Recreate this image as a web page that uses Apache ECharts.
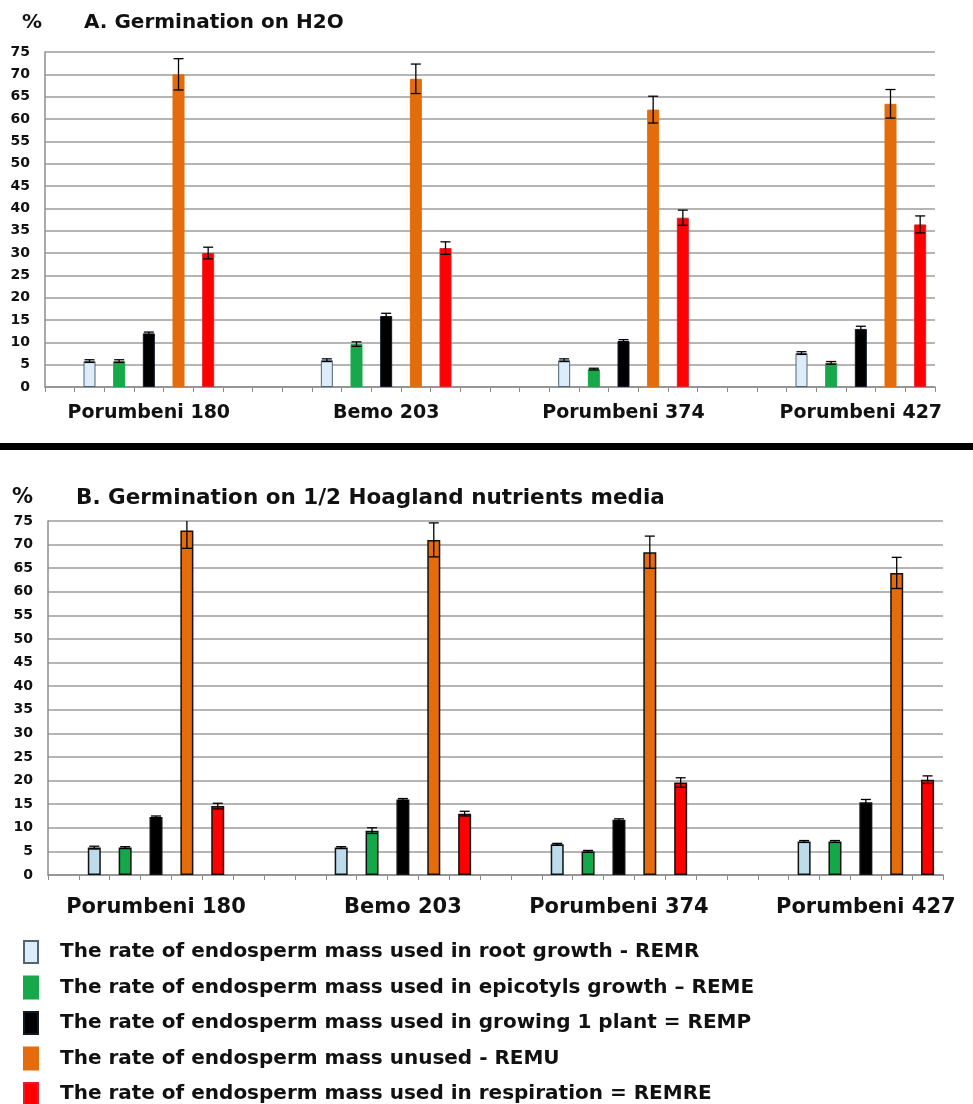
<!DOCTYPE html>
<html>
<head>
<meta charset="utf-8">
<title>Germination – endosperm mass use</title>
<script src="https://cdn.jsdelivr.net/npm/echarts@6/dist/echarts.min.js"></script>
<style>
  html, body { margin: 0; padding: 0; background: #fff; }
  #chart { width: 973px; height: 1104px; }
</style>
</head>
<body>
<div id="chart"></div>
<script>
// Cultivars (groups on the x axis)
const groups = ['Porumbeni 180', 'Bemo 203', 'Porumbeni 374', 'Porumbeni 427'];

// Legend / series names
const seriesNames = [
  'The rate of endosperm mass used in root growth - REMR',
  'The rate of endosperm mass used in epicotyls growth \u2013 REME',
  'The rate of endosperm mass used in growing 1 plant = REMP',
  'The rate of endosperm mass unused - REMU',
  'The rate of endosperm mass used in respiration = REMRE'
];

const yTicks = [0, 5, 10, 15, 20, 25, 30, 35, 40, 45, 50, 55, 60, 65, 70, 75];

// A. Germination on H2O (%)
const h2oREMR  = [5.8, 6.0, 6.0, 7.6];
const h2oREME  = [5.8, 9.6, 4.0, 5.4];
const h2oREMP  = [12.0, 15.9, 10.3, 13.0];
const h2oREMU  = [70.0, 69.0, 62.1, 63.4];
const h2oREMRE = [30.0, 31.1, 37.9, 36.4];
// error bars (+/-)
const h2oErrREMR  = [0.3, 0.3, 0.3, 0.3];
const h2oErrREME  = [0.3, 0.5, 0.2, 0.3];
const h2oErrREMP  = [0.3, 0.6, 0.3, 0.6];
const h2oErrREMU  = [3.5, 3.3, 3.0, 3.2];
const h2oErrREMRE = [1.3, 1.4, 1.7, 1.9];

// B. Germination on 1/2 Hoagland nutrients media (%)
const hoaREMR  = [5.8, 5.8, 6.5, 7.1];
const hoaREME  = [5.8, 9.4, 5.0, 7.1];
const hoaREMP  = [12.3, 16.0, 11.7, 15.4];
const hoaREMU  = [73.0, 71.0, 68.4, 64.0];
const hoaREMRE = [14.6, 13.0, 19.6, 20.2];
const hoaErrREMR  = [0.3, 0.2, 0.2, 0.2];
const hoaErrREME  = [0.2, 0.6, 0.2, 0.2];
const hoaErrREMP  = [0.2, 0.2, 0.2, 0.6];
const hoaErrREMU  = [3.8, 3.6, 3.4, 3.3];
const hoaErrREMRE = [0.6, 0.5, 1.0, 0.8];

// slot layout of the two excel-style axes
const topSlots = 30, topStarts = [1, 9, 17, 25];
const botSlots = 29, botStarts = [1, 9, 16, 24];

const fillTop = ['#dcecf8', '#17a84b', '#000000', '#e46c0a', '#ff0000'];
const edgeTop = ['#4f6475', '#17a84b', '#10182a', '#e46c0a', '#e0202a'];
const fillBot = ['#bcdcec', '#14a84a', '#000000', '#e46c0a', '#ff0000'];

const FONT = 'DejaVu Sans';

function slotLabels(n, starts) {
  const arr = new Array(n).fill('');
  starts.forEach((s, g) => { arr[s + 2] = groups[g]; });
  return arr;
}

function slotData(values, starts, k, n) {
  const arr = new Array(n).fill('-');
  starts.forEach((s, g) => { arr[s + k] = values[g]; });
  return arr;
}

function errData(valueSets, errSets, starts) {
  const out = [];
  valueSets.forEach((vals, k) => {
    vals.forEach((v, g) => {
      out.push([starts[g] + k, v - errSets[k][g], v + errSets[k][g]]);
    });
  });
  return out;
}

function renderErr(params, api) {
  const x = api.value(0);
  const lo = api.coord([x, api.value(1)]);
  const hi = api.coord([x, api.value(2)]);
  const half = 5;
  const style = { stroke: '#000', lineWidth: 1.3 };
  return {
    type: 'group',
    children: [
      { type: 'line', shape: { x1: lo[0], y1: lo[1], x2: hi[0], y2: hi[1] }, style },
      { type: 'line', shape: { x1: hi[0] - half, y1: hi[1], x2: hi[0] + half, y2: hi[1] }, style },
      { type: 'line', shape: { x1: lo[0] - half, y1: lo[1], x2: lo[0] + half, y2: lo[1] }, style }
    ]
  };
}

const topVals = [h2oREMR, h2oREME, h2oREMP, h2oREMU, h2oREMRE];
const topErrs = [h2oErrREMR, h2oErrREME, h2oErrREMP, h2oErrREMU, h2oErrREMRE];
const botVals = [hoaREMR, hoaREME, hoaREMP, hoaREMU, hoaREMRE];
const botErrs = [hoaErrREMR, hoaErrREME, hoaErrREMP, hoaErrREMU, hoaErrREMRE];

function xAxisFor(idx, n, starts, fs, margin) {
  return {
    type: 'category',
    gridIndex: idx,
    data: slotLabels(n, starts),
    boundaryGap: true,
    axisLine: { lineStyle: { color: '#8c8c8c', width: 1.5 } },
    axisTick: { show: true, interval: 0, length: 5, lineStyle: { color: '#8c8c8c', width: 1 } },
    axisLabel: {
      interval: 0,
      margin: margin,
      color: '#111',
      fontFamily: FONT,
      fontWeight: 'bold',
      fontSize: fs
    },
    splitLine: { show: false }
  };
}

function yAxisFor(idx) {
  return {
    type: 'value',
    gridIndex: idx,
    min: 0,
    max: 75,
    interval: 5,
    axisLine: { show: true, lineStyle: { color: '#8c8c8c', width: 1.5 } },
    axisTick: { show: false },
    axisLabel: {
      margin: 15,
      color: '#111',
      fontFamily: FONT,
      fontWeight: 'bold',
      fontSize: 14,
      formatter: v => (yTicks.includes(v) ? String(v) : '')
    },
    splitLine: { lineStyle: { color: '#9c9c9c', width: 1.5 } }
  };
}

const series = [];
seriesNames.forEach((name, k) => {
  series.push({
    name,
    type: 'bar',
    xAxisIndex: 0,
    yAxisIndex: 0,
    data: slotData(topVals[k], topStarts, k, topSlots),
    barWidth: 12,
    barGap: '-100%',
    itemStyle: { color: fillTop[k], borderColor: edgeTop[k], borderWidth: 1 },
    z: 2
  });
});
seriesNames.forEach((name, k) => {
  series.push({
    name,
    type: 'bar',
    xAxisIndex: 1,
    yAxisIndex: 1,
    data: slotData(botVals[k], botStarts, k, botSlots),
    barWidth: 13,
    barGap: '-100%',
    itemStyle: { color: fillBot[k], borderColor: '#111', borderWidth: 1.5 },
    z: 2
  });
});
series.push({
  type: 'custom',
  xAxisIndex: 0,
  yAxisIndex: 0,
  renderItem: renderErr,
  data: errData(topVals, topErrs, topStarts),
  clip: true,
  z: 5
});
series.push({
  type: 'custom',
  xAxisIndex: 1,
  yAxisIndex: 1,
  renderItem: renderErr,
  data: errData(botVals, botErrs, botStarts),
  clip: true,
  z: 5
});

const titleStyle = { color: '#111', fontFamily: FONT, fontWeight: 'bold' };

// one legend row per series so the column never wraps
const legends = seriesNames.map((name, i) => ({
  data: [name],
  orient: 'vertical',
  left: 23,
  top: 940 + i * 35.5,
  padding: 0,
  icon: 'rect',
  itemWidth: 14,
  itemHeight: 22,
  selectedMode: false,
  textStyle: {
    color: '#111',
    fontFamily: FONT,
    fontWeight: 'bold',
    fontSize: 20,
    padding: [0, 0, 0, 17]
  }
}));

const option = {
  animation: false,
  backgroundColor: '#fff',
  title: [
    { text: '%', left: 17, top: 8, textStyle: { ...titleStyle, fontSize: 20 } },
    { text: 'A. Germination on H2O', left: 79, top: 8, textStyle: { ...titleStyle, fontSize: 20 } },
    { text: '%', left: 7, top: 482, textStyle: { ...titleStyle, fontSize: 21 } },
    { text: 'B. Germination on 1/2 Hoagland nutrients media', left: 71, top: 482, textStyle: { ...titleStyle, fontSize: 21.5 } }
  ],
  grid: [
    { left: 45, right: 38, top: 52, height: 335 },
    { left: 48, right: 30, top: 521, height: 354 }
  ],
  xAxis: [
    xAxisFor(0, topSlots, topStarts, 19, 17),
    xAxisFor(1, botSlots, botStarts, 21, 22)
  ],
  yAxis: [yAxisFor(0), yAxisFor(1)],
  legend: legends,
  graphic: [
    { type: 'rect', left: 0, top: 443, shape: { width: 973, height: 7 }, style: { fill: '#000' } }
  ],
  series
};

const chart = echarts.init(document.getElementById('chart'));
chart.setOption(option);
</script>
</body>
</html>
